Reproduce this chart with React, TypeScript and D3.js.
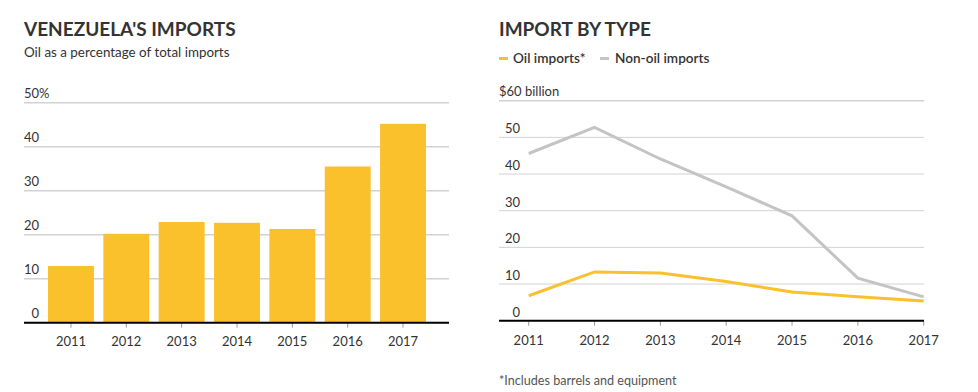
import React from 'react';
import * as d3 from 'd3';

// Left chart: oil share of total imports (%)
const years = ['2011', '2012', '2013', '2014', '2015', '2016', '2017'];
const oilShare = [12.9, 20.2, 22.9, 22.7, 21.3, 35.5, 45.2];
const shareTicks = [0, 10, 20, 30, 40, 50];

// Right chart: imports by type ($ billion)
const oilImports = [6.8, 13.3, 13.0, 10.7, 7.8, 6.5, 5.4];
const nonOilImports = [45.6, 52.7, 44.1, 36.5, 28.6, 11.6, 6.5];
const valueTicks = [0, 10, 20, 30, 40, 50, 60];

const YELLOW = '#fbc12d';
const GREY = '#c4c4c4';
const GRID = '#d2d2d2';
const TEXT = '#333';
const FONT = 'Lato, "Open Sans", sans-serif';

const W = 978;
const H = 392;

const App: React.FC = () => {
  // ---- left chart scales
  const xBand = d3.scaleBand<string>()
    .domain(years)
    .range([48, 426])
    .paddingInner(0.17)
    .paddingOuter(0);
  const yShare = d3.scaleLinear().domain([0, 50]).range([322.7, 102.7]);

  // ---- right chart scales
  const xPoint = d3.scalePoint<string>().domain(years).range([528.7, 923.7]);
  const yValue = d3.scaleLinear().domain([0, 60]).range([320.7, 100.7]);

  const line = d3.line<number>()
    .x((_, i) => xPoint(years[i]) as number)
    .y(d => yValue(d));

  return (
    <svg width={W} height={H} style={{ position: 'absolute', left: 0, top: 0, background: '#fff' }}
      fontFamily={FONT}>
      {/* ---------- LEFT ---------- */}
      <text x={24} y={36} fontSize={19} fontWeight={700} fill={TEXT}>VENEZUELA'S IMPORTS</text>
      <text x={24} y={57} fontSize={13.4} fill={TEXT}>Oil as a percentage of total imports</text>

      {shareTicks.filter(t => t > 0).map(t => (
        <line key={t} x1={24} x2={449} y1={yShare(t)} y2={yShare(t)} stroke={GRID} strokeWidth={1.5} />
      ))}
      {shareTicks.map(t => (
        <text key={t} x={39} y={yShare(t) - 5} fontSize={13} fill={TEXT} textAnchor="end">{t}</text>
      ))}
      <text x={39} y={yShare(50) - 5} fontSize={13} fill={TEXT}>%</text>

      {years.map((yr, i) => (
        <rect key={yr} x={xBand(yr)} y={yShare(oilShare[i])} width={xBand.bandwidth()}
          height={yShare(0) - yShare(oilShare[i])} fill={YELLOW} />
      ))}

      {years.map(yr => {
        const cx = (xBand(yr) as number) + xBand.bandwidth() / 2;
        return (
          <g key={yr}>
            <line x1={cx} x2={cx} y1={yShare(0)} y2={yShare(0) + 5} stroke="#999" />
            <text x={cx} y={346} fontSize={13} fill={TEXT} textAnchor="middle">{yr}</text>
          </g>
        );
      })}
      <line x1={24} x2={449} y1={yShare(0)} y2={yShare(0)} stroke="#000" strokeWidth={2} />

      {/* ---------- RIGHT ---------- */}
      <text x={499} y={36} fontSize={19} fontWeight={700} fill={TEXT}>IMPORT BY TYPE</text>

      <line x1={499} x2={508} y1={58.5} y2={58.5} stroke={YELLOW} strokeWidth={3} />
      <text x={513} y={63} fontSize={13.6} fontWeight={600} fill={TEXT}>Oil imports*</text>
      <line x1={600} x2={609} y1={58.5} y2={58.5} stroke={GREY} strokeWidth={3} />
      <text x={615} y={63} fontSize={13.6} fontWeight={600} fill={TEXT}>Non-oil imports</text>

      {valueTicks.filter(t => t > 0).map(t => (
        <line key={t} x1={499} x2={924} y1={yValue(t)} y2={yValue(t)} stroke={GRID} strokeWidth={t === 60 ? 1.5 : 1} />
      ))}
      {valueTicks.filter(t => t < 60).map(t => (
        <text key={t} x={520} y={yValue(t) - 4} fontSize={13} fill={TEXT} textAnchor="end">{t}</text>
      ))}
      <text x={499} y={yValue(60) - 5} fontSize={13} fill={TEXT}>$60 billion</text>

      <path d={line(nonOilImports) || ''} fill="none" stroke={GREY} strokeWidth={3} />
      <path d={line(oilImports) || ''} fill="none" stroke={YELLOW} strokeWidth={3} />

      {years.map(yr => {
        const cx = xPoint(yr) as number;
        return (
          <g key={yr}>
            <line x1={cx} x2={cx} y1={yValue(0)} y2={yValue(0) + 5} stroke="#999" />
            <text x={cx} y={345} fontSize={13} fill={TEXT} textAnchor="middle">{yr}</text>
          </g>
        );
      })}
      <line x1={499} x2={924} y1={yValue(0)} y2={yValue(0)} stroke="#000" strokeWidth={2} />

      <text x={499} y={385} fontSize={12.6} fill="#555">*Includes barrels and equipment</text>
    </svg>
  );
};

export default App;
